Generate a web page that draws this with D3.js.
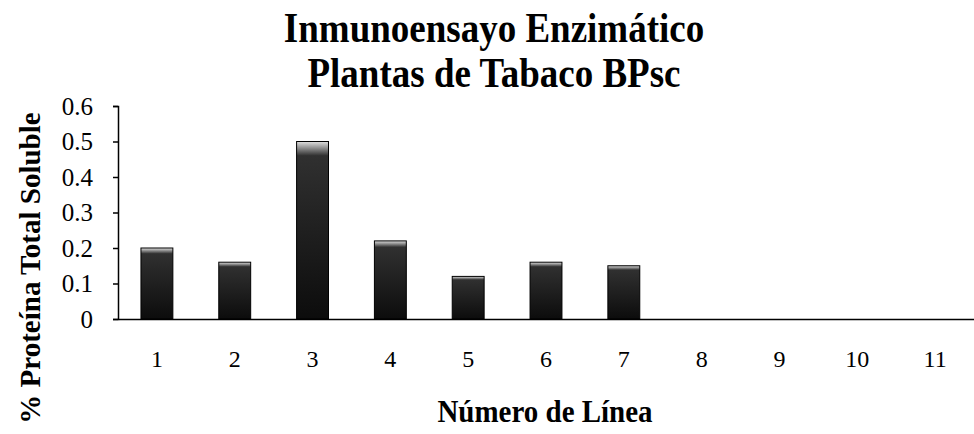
<!DOCTYPE html>
<html><head><meta charset="utf-8">
<script src="https://cdn.jsdelivr.net/npm/d3@7"></script>
<style>body{margin:0;background:#fff}svg{display:block}text{font-family:"Liberation Serif","Times New Roman",serif}</style>
</head><body><svg id="c" width="974" height="434"></svg>
<script>
const categories = ["1","2","3","4","5","6","7","8","9","10","11"];
const values = [0.20, 0.16, 0.50, 0.22, 0.12, 0.16, 0.15, 0, 0, 0, 0];
const yTicks = [0, 0.1, 0.2, 0.3, 0.4, 0.5, 0.6];
const titleLines = ["Inmunoensayo Enzimático", "Plantas de Tabaco BPsc"];
const xTitle = "Número de Línea";
const yTitle = "% Proteína Total Soluble";

const FF = "Liberation Serif, Times New Roman, serif";
const svg = d3.select("#c");
const m = {left:118, right:974, top:106, bottom:319};
const x = d3.scaleBand().domain(categories).range([m.left, m.right]).paddingInner(0.59).paddingOuter(0.295);
const y = d3.scaleLinear().domain([0, 0.6]).range([m.bottom, m.top]);

const defs = svg.append("defs");
const g = defs.append("linearGradient").attr("id","bg").attr("x1",0).attr("x2",0).attr("y1",0).attr("y2",1);
g.append("stop").attr("offset","0%").attr("stop-color","#e0e0e0");
g.append("stop").attr("offset","8%").attr("stop-color","#303030");
g.append("stop").attr("offset","100%").attr("stop-color","#0c0c0c");

svg.append("g").selectAll("rect").data(values).join("rect")
  .attr("x",(d,i)=>x(categories[i]))
  .attr("y",d=>y(d))
  .attr("width",x.bandwidth())
  .attr("height",d=>y(0)-y(d))
  .attr("fill","url(#bg)")
  .attr("stroke","#000").attr("stroke-width",1);

const ya = svg.append("g").attr("transform",`translate(${m.left},0)`)
  .call(d3.axisLeft(y).tickValues(yTicks).tickFormat(d=>d===0?"0":d3.format(".1f")(d)).tickSize(5).tickPadding(20));
ya.select(".domain").attr("stroke","#000").attr("stroke-width",1.5);
ya.selectAll("line").attr("stroke","#000").attr("stroke-width",1.5);
ya.selectAll("text").attr("font-size",25).attr("fill","#000").attr("font-family",FF);

const xa = svg.append("g").attr("transform",`translate(0,${m.bottom})`)
  .call(d3.axisBottom(x).tickSize(0).tickPadding(31));
xa.select(".domain").attr("stroke","#000").attr("stroke-width",1.5);
xa.selectAll("text").attr("font-size",24).attr("fill","#000").attr("font-family",FF);

svg.append("g").selectAll("text").data(titleLines).join("text")
  .attr("transform",(d,i)=>`translate(494,${42+i*45}) scale(1,1.15)`).attr("text-anchor","middle")
  .attr("font-family",FF).attr("font-size",37).attr("font-weight","bold").text(d=>d);

svg.append("text").attr("transform","translate(545,422) scale(1,1.12)").attr("text-anchor","middle")
  .attr("font-family",FF).attr("font-size",29).attr("font-weight","bold").text(xTitle);

svg.append("text").attr("transform","translate(40,268) rotate(-90)").attr("text-anchor","middle")
  .attr("font-family",FF).attr("font-size",29).attr("font-weight","bold").text(yTitle);
</script></body></html>
